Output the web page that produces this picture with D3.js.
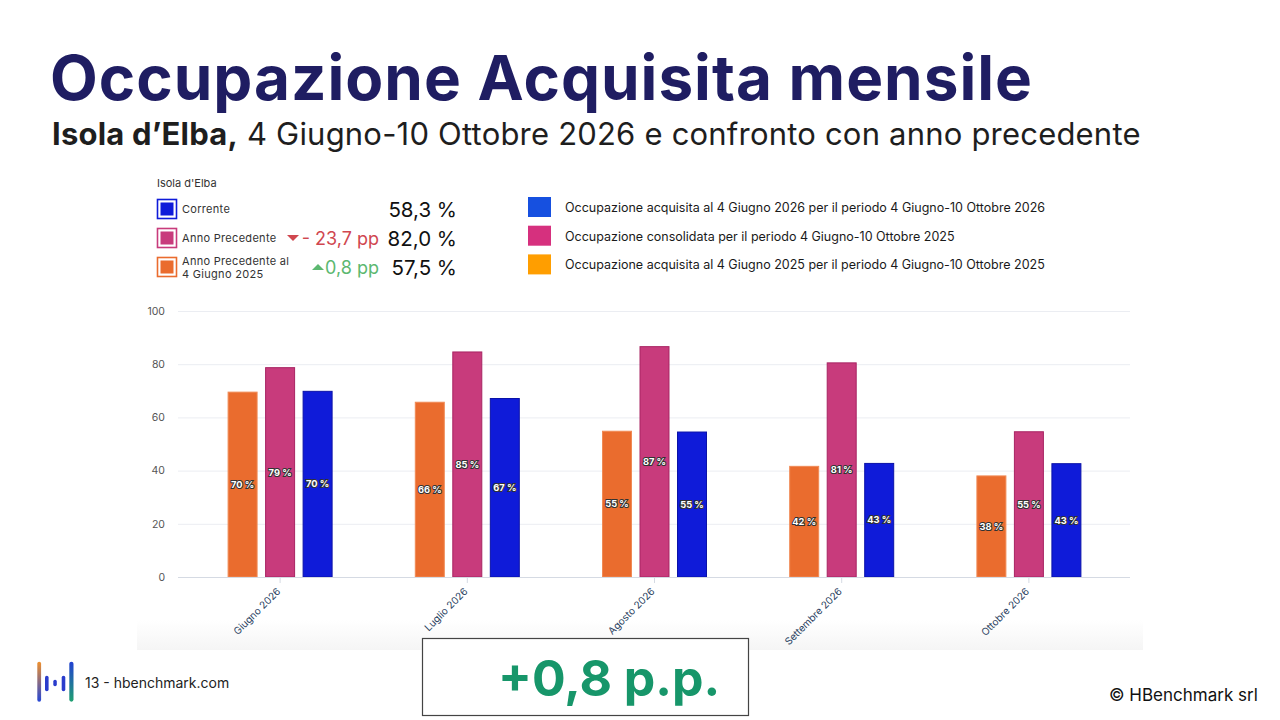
<!DOCTYPE html>
<html lang="it">
  <head>
    <meta charset="utf-8" />
    <script src="https://d3js.org/d3.v7.min.js"></script>
    <style>
      body { margin: 0; background: #fff; }
      svg text { font-family: Inter, "Noto Sans", sans-serif; }
    </style>
    <title>Occupazione Acquisita mensile</title>
  </head>
  <body>
    <svg id="chart" width="1280" height="720"></svg>

    <script>
      // dati
      const months = ["Giugno 2026", "Luglio 2026", "Agosto 2026", "Settembre 2026", "Ottobre 2026"];
      const acquisita2025 = [69.5, 65.7, 54.8, 41.6, 38.0];
      const consolidata2025 = [78.7, 84.6, 86.6, 80.5, 54.6];
      const acquisita2026 = [69.8, 67.1, 54.5, 42.7, 42.6];
      const yTicks = [0, 20, 40, 60, 80, 100];

      const seriesKeys = ["acq2025", "cons2025", "acq2026"];
      const seriesFill = { acq2025: "#ea6c2e", cons2025: "#c83b7c", acq2026: "#0f1bd9" };
      const seriesStroke = { acq2025: "#f08a55", cons2025: "#a82463", acq2026: "#0a12a8" };

      const kpiLabels = ["Corrente", "Anno Precedente", "Anno Precedente al|4 Giugno 2025"];
      const kpiValues = ["58,3 %", "82,0 %", "57,5 %"];
      const kpiDelta = ["", "- 23,7 pp", "0,8 pp"];

      const legendLabels = [
        "Occupazione acquisita al 4 Giugno 2026 per il periodo 4 Giugno-10 Ottobre 2026",
        "Occupazione consolidata per il periodo 4 Giugno-10 Ottobre 2025",
        "Occupazione acquisita al 4 Giugno 2025 per il periodo 4 Giugno-10 Ottobre 2025",
      ];
      const legendColors = ["#1650e0", "#d6307e", "#ff9e00"];

      const data = months.map((m, i) => ({
        month: m,
        acq2025: acquisita2025[i],
        cons2025: consolidata2025[i],
        acq2026: acquisita2026[i],
      }));

      const svg = d3.select("svg#chart");
      const defs = svg.append("defs");

      // ombra leggera sotto l'immagine del grafico
      const shade = defs.append("linearGradient").attr("id", "shade")
        .attr("x1", 0).attr("y1", 0).attr("x2", 0).attr("y2", 1);
      shade.append("stop").attr("offset", "0%").attr("stop-color", "#ffffff");
      shade.append("stop").attr("offset", "100%").attr("stop-color", "#f5f5f5");
      svg.append("rect").attr("x", 137).attr("y", 620).attr("width", 1006).attr("height", 30)
        .attr("fill", "url(#shade)");

      // titolo
      svg.append("text")
        .attr("x", 50).attr("y", 100)
        .attr("font-size", 62).attr("font-weight", 700)
        .attr("letter-spacing", 1)
        .attr("fill", "#1f1d62")
        .text("Occupazione Acquisita mensile");

      const sub = svg.append("text")
        .attr("x", 52).attr("y", 145)
        .attr("font-size", 31).attr("fill", "#1e1e1e")
        .attr("letter-spacing", 0.2);
      sub.append("tspan").attr("font-weight", 700).text("Isola d’Elba,");
      sub.append("tspan").text(" 4 Giugno-10 Ottobre 2026 e confronto con anno precedente");

      // riquadro KPI
      const kpi = svg.append("g");
      kpi.append("text").attr("x", 157).attr("y", 187).attr("font-size", 11).attr("fill", "#333")
        .text("Isola d'Elba");
      const kpiColors = [seriesFill.acq2026, seriesFill.cons2025, seriesFill.acq2025];
      const kpiY = [209, 238, 267];
      kpiLabels.forEach((lab, i) => {
        const y = kpiY[i];
        kpi.append("rect").attr("x", 157.5).attr("y", y - 9.5).attr("width", 19).attr("height", 19)
          .attr("fill", "#fff").attr("stroke", kpiColors[i]).attr("stroke-width", 1.6);
        kpi.append("rect").attr("x", 160.5).attr("y", y - 6.5).attr("width", 13).attr("height", 13)
          .attr("fill", kpiColors[i]);
        const parts = lab.split("|");
        const t = kpi.append("text").attr("x", 182).attr("font-size", 11).attr("fill", "#333")
          .attr("letter-spacing", 0.3);
        if (parts.length === 1) {
          t.attr("y", y + 4).text(parts[0]);
        } else {
          t.append("tspan").attr("x", 182).attr("y", y - 2).text(parts[0]);
          t.append("tspan").attr("x", 182).attr("y", y + 11).text(parts[1]);
        }
        kpi.append("text").attr("x", 457).attr("y", y + 8).attr("text-anchor", "end")
          .attr("font-size", 20.5).attr("fill", "#111").text(kpiValues[i]);
        if (kpiDelta[i]) {
          const down = i === 1;
          const col = down ? "#d0474f" : "#5cb870";
          kpi.append("text").attr("x", 379).attr("y", y + 7).attr("text-anchor", "end")
            .attr("font-size", 18).attr("fill", col).text(kpiDelta[i]);
          const tx = down ? 293 : 318;
          const tri = down
            ? `M${tx - 6},${y - 3} L${tx + 6},${y - 3} L${tx},${y + 3} Z`
            : `M${tx - 6},${y + 3} L${tx + 6},${y + 3} L${tx},${y - 3} Z`;
          kpi.append("path").attr("d", tri).attr("fill", col);
        }
      });

      // legenda a destra
      const leg = svg.append("g");
      legendLabels.forEach((lab, i) => {
        const y = 197 + i * 28.7;
        leg.append("rect").attr("x", 528).attr("y", y).attr("width", 23).attr("height", 20)
          .attr("fill", legendColors[i]);
        leg.append("text").attr("x", 565).attr("y", y + 15).attr("font-size", 12.5)
          .attr("fill", "#1a1a1a").text(lab);
      });

      // grafico a barre
      const y = d3.scaleLinear().domain([0, 100]).range([577, 311]);
      const x0 = d3.scaleBand().domain(months).range([186.5, 1122.5]).paddingInner(0);
      const x1 = d3.scaleBand().domain(seriesKeys).range([-52, 52]).paddingInner(0.227);

      const grid = svg.append("g")
        .attr("transform", "translate(178,0)")
        .call(d3.axisLeft(y).tickValues(yTicks).tickSize(-952).tickFormat(d3.format("d")));
      grid.select(".domain").remove();
      grid.selectAll(".tick line").attr("stroke", "#ebedf2").attr("stroke-width", 1);
      grid.selectAll(".tick text")
        .attr("x", -13).attr("fill", "#555")
        .attr("font-size", 10.5).attr("font-family", "'Open Sans', sans-serif");

      const bars = svg.append("g");
      const groups = bars.selectAll("g").data(data).join("g")
        .attr("transform", d => `translate(${x0(d.month) + x0.bandwidth() / 2},0)`);

      groups.selectAll("rect")
        .data(d => seriesKeys.map(k => ({ key: k, value: d[k] })))
        .join("rect")
        .attr("x", d => x1(d.key))
        .attr("y", d => y(d.value))
        .attr("width", x1.bandwidth())
        .attr("height", d => y(0) - y(d.value))
        .attr("fill", d => seriesFill[d.key])
        .attr("stroke", d => seriesStroke[d.key])
        .attr("stroke-width", 1);

      groups.selectAll("text")
        .data(d => seriesKeys.map(k => ({ key: k, value: d[k] })))
        .join("text")
        .attr("x", d => x1(d.key) + x1.bandwidth() / 2)
        .attr("y", d => (y(0) + y(d.value)) / 2)
        .attr("dy", "0.35em")
        .attr("text-anchor", "middle")
        .attr("font-family", "'DejaVu Sans', sans-serif")
        .attr("font-weight", 700)
        .attr("font-size", 9.3)
        .attr("fill", "#fff")
        .attr("stroke", "#333")
        .attr("stroke-width", 2)
        .attr("paint-order", "stroke")
        .text(d => Math.round(d.value) + " %");

      const xAxis = svg.append("g")
        .attr("transform", "translate(0,577)")
        .call(d3.axisBottom(x0).tickSize(6).tickSizeOuter(0));
      xAxis.select(".domain").attr("d", "M178,0.5H1130").attr("stroke", "#d5dae3");
      xAxis.selectAll(".tick line").attr("stroke", "#d5dae3");
      xAxis.selectAll(".tick text")
        .attr("y", 0).attr("dy", 0)
        .attr("transform", "translate(1,15) rotate(-45)")
        .attr("text-anchor", "end")
        .attr("fill", "#2a3f5f")
        .attr("font-size", 10)
        .attr("font-family", "'Open Sans', sans-serif");

      // riquadro in basso
      svg.append("rect").attr("x", 422.5).attr("y", 638.5).attr("width", 326).attr("height", 77)
        .attr("fill", "#fff").attr("stroke", "#444").attr("stroke-width", 1.2);
      svg.append("text").attr("x", 498).attr("y", 696)
        .attr("font-size", 50).attr("font-weight", 700).attr("fill", "#17966a")
        .text("+0,8 p.p.");

      // logo e piè di pagina
      const lg1 = defs.append("linearGradient").attr("id", "lg1").attr("x1", 0).attr("y1", 0).attr("x2", 0).attr("y2", 1);
      lg1.append("stop").attr("offset", "0%").attr("stop-color", "#f0902c");
      lg1.append("stop").attr("offset", "100%").attr("stop-color", "#2446d6");
      const lg2 = defs.append("linearGradient").attr("id", "lg2").attr("x1", 0).attr("y1", 0).attr("x2", 0).attr("y2", 1);
      lg2.append("stop").attr("offset", "0%").attr("stop-color", "#2240d2");
      lg2.append("stop").attr("offset", "100%").attr("stop-color", "#1fa070");
      const logo = svg.append("g");
      logo.append("rect").attr("x", 37.3).attr("y", 661.7).attr("width", 3.8).attr("height", 40).attr("rx", 1.9).attr("fill", "url(#lg1)");
      logo.append("rect").attr("x", 45).attr("y", 675.7).attr("width", 3.6).attr("height", 15.5).attr("rx", 1.8).attr("fill", "#2a3ccc");
      logo.append("rect").attr("x", 53.3).attr("y", 679.7).attr("width", 3.5).attr("height", 6.5).attr("rx", 1.7).attr("fill", "#2a3ccc");
      logo.append("rect").attr("x", 61.7).attr("y", 675.7).attr("width", 3.6).attr("height", 15.5).attr("rx", 1.8).attr("fill", "#2a3ccc");
      logo.append("rect").attr("x", 69.3).attr("y", 661.7).attr("width", 4.2).attr("height", 40).attr("rx", 2.1).attr("fill", "url(#lg2)");

      svg.append("text").attr("x", 85).attr("y", 688).attr("font-size", 14).attr("fill", "#222")
        .text("13 - hbenchmark.com");
      svg.append("text").attr("x", 1109).attr("y", 701).attr("font-size", 17).attr("fill", "#111")
        .text("© HBenchmark srl");
    </script>
  </body>
</html>
